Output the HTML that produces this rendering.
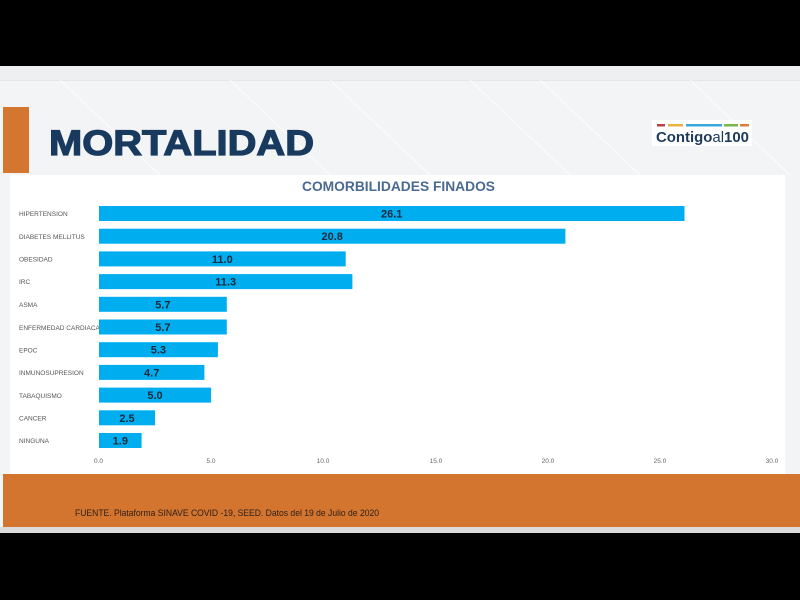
<!DOCTYPE html>
<html><head><meta charset="utf-8"><style>
html,body{margin:0;padding:0;background:#000;}
svg{display:block;}
</style></head><body>
<svg width="800" height="600" viewBox="0 0 800 600" xmlns="http://www.w3.org/2000/svg">
<rect x="0" y="0" width="800" height="600" fill="#000"/>
<!-- slide background -->
<rect x="0" y="66" width="800" height="467" fill="#f3f4f6"/>
<rect x="0" y="66" width="800" height="14" fill="#eeeff1"/>
<line x1="0" y1="80.5" x2="800" y2="80.5" stroke="#e4e6ea" stroke-width="1"/>
<!-- diagonal lines -->
<g stroke="#ffffff" stroke-width="1.5" opacity="0.6">
<line x1="60" y1="80" x2="160" y2="175"/>
<line x1="230" y1="80" x2="330" y2="175"/>
<line x1="330" y1="80" x2="430" y2="175"/>
<line x1="470" y1="80" x2="570" y2="175"/>
<line x1="540" y1="80" x2="640" y2="175"/>
<line x1="690" y1="80" x2="790" y2="175"/>
</g>
<!-- orange marker -->
<rect x="3" y="107" width="26" height="66" fill="#d4762f"/>
<!-- title -->
<text x="49" y="155" font-family="Liberation Sans, sans-serif" font-weight="bold" font-size="35" fill="#183a5e" stroke="#183a5e" stroke-width="1.2" textLength="265" lengthAdjust="spacingAndGlyphs">MORTALIDAD</text>
<!-- logo -->
<rect x="652" y="120" width="100" height="26" fill="#ffffff"/>
<rect x="657" y="124" width="8" height="2.5" fill="#b8404a"/>
<rect x="668" y="124" width="15" height="2.5" fill="#e8b341"/>
<rect x="686" y="124" width="36" height="2.5" fill="#3ba9dc"/>
<rect x="724" y="124" width="14" height="2.5" fill="#7ab648"/>
<rect x="740" y="124" width="9" height="2.5" fill="#e07a3c"/>
<text x="656" y="142" font-family="Liberation Sans, sans-serif" font-size="14.5" fill="#1d3a5c" textLength="93" lengthAdjust="spacingAndGlyphs"><tspan font-weight="bold">Contigo</tspan><tspan>al</tspan><tspan font-weight="bold">100</tspan></text>
<!-- chart panel -->
<rect x="10" y="175" width="775" height="299" fill="#ffffff"/>
<text x="398.5" y="191" text-anchor="middle" font-family="Liberation Sans, sans-serif" font-weight="bold" font-size="14" fill="#4a6a92" textLength="193" lengthAdjust="spacingAndGlyphs">COMORBILIDADES FINADOS</text>
<g font-family="Liberation Sans, sans-serif" font-size="6.5" fill="#555">
<text x="19" y="216">HIPERTENSION</text>
<text x="19" y="239">DIABETES MELLITUS</text>
<text x="19" y="261.5">OBESIDAD</text>
<text x="19" y="284">IRC</text>
<text x="19" y="307">ASMA</text>
<text x="19" y="330">ENFERMEDAD CARDIACA</text>
<text x="19" y="352.5">EPOC</text>
<text x="19" y="375">INMUNOSUPRESION</text>
<text x="19" y="398">TABAQUISMO</text>
<text x="19" y="420.5">CANCER</text>
<text x="19" y="443">NINGUNA</text>
</g>
<g fill="#00aeef">
<rect x="99" y="206" width="585.5" height="15"/>
<rect x="99" y="228.7" width="466.4" height="15"/>
<rect x="99" y="251.4" width="246.7" height="15"/>
<rect x="99" y="274.1" width="253.4" height="15"/>
<rect x="99" y="296.8" width="127.8" height="15"/>
<rect x="99" y="319.5" width="127.8" height="15"/>
<rect x="99" y="342.2" width="118.9" height="15"/>
<rect x="99" y="364.9" width="105.4" height="15"/>
<rect x="99" y="387.6" width="112.1" height="15"/>
<rect x="99" y="410.3" width="56.1" height="15"/>
<rect x="99" y="433" width="42.6" height="15"/>
</g>
<g font-family="Liberation Sans, sans-serif" font-weight="bold" font-size="11" fill="#1c2a3c" text-anchor="middle">
<text x="391.7" y="217.5">26.1</text>
<text x="332.2" y="240.2">20.8</text>
<text x="222.3" y="262.9">11.0</text>
<text x="225.7" y="285.6">11.3</text>
<text x="162.9" y="308.3">5.7</text>
<text x="162.9" y="331">5.7</text>
<text x="158.4" y="353.7">5.3</text>
<text x="151.7" y="376.4">4.7</text>
<text x="155" y="399.1">5.0</text>
<text x="127" y="421.8">2.5</text>
<text x="120.3" y="444.5">1.9</text>
</g>
<g font-family="Liberation Sans, sans-serif" font-size="6.5" fill="#666" text-anchor="middle">
<text x="98.5" y="463">0.0</text>
<text x="211" y="463">5.0</text>
<text x="323" y="463">10.0</text>
<text x="436" y="463">15.0</text>
<text x="548" y="463">20.0</text>
<text x="660" y="463">25.0</text>
<text x="772" y="463">30.0</text>
</g>
<!-- footer -->
<rect x="3" y="474" width="797" height="53" fill="#d3742f"/>
<rect x="0" y="527" width="800" height="6" fill="#dcdcdc"/>
<text x="75" y="516" font-family="Liberation Sans, sans-serif" font-size="8.8" fill="#2e2018" textLength="304" lengthAdjust="spacingAndGlyphs">FUENTE. Plataforma SINAVE COVID -19, SEED. Datos del 19 de Julio de 2020</text>
</svg>
</body></html>
